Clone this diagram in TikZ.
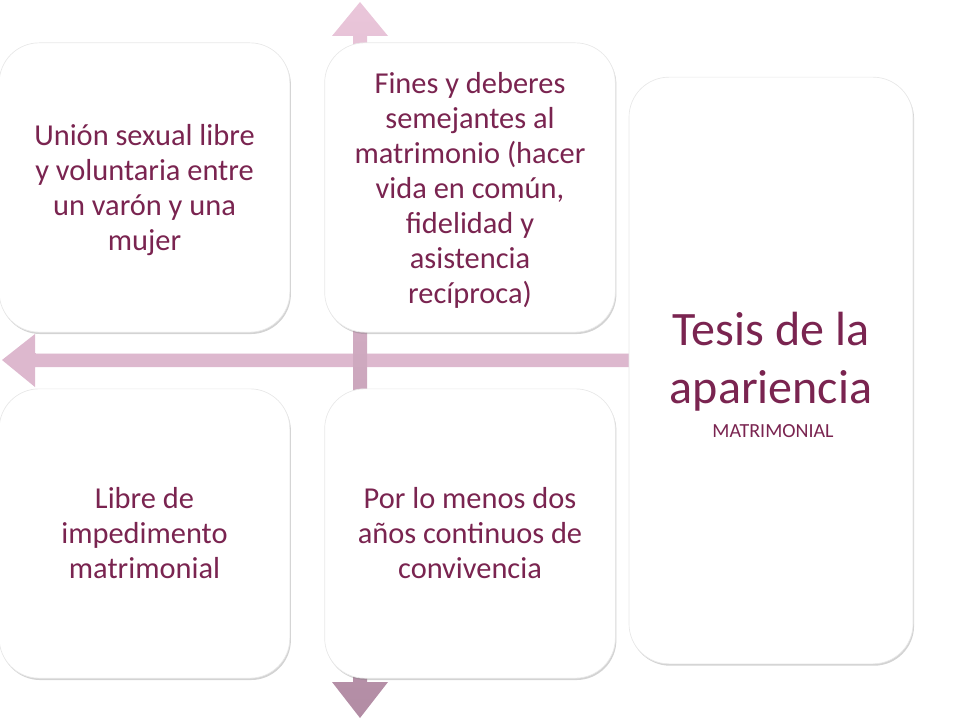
\documentclass[tikz,border=0pt]{standalone}
\usepackage{fontspec}
\setmainfont{Carlito}
\usepackage{tikz}
\usetikzlibrary{shadows}
\usepackage{xcolor}

\definecolor{maroon}{RGB}{122,36,80}
\definecolor{rosebar}{RGB}{221,184,206}
\definecolor{rosetop}{RGB}{234,198,218}
\definecolor{rosebot}{RGB}{178,140,164}

\tikzset{
  card/.style={rectangle, rounded corners=30pt, fill=white, draw=gray!18, line width=0.5pt,
    drop shadow={shadow xshift=0.8pt, shadow yshift=-1.4pt, opacity=0.35, fill=gray},
    text=maroon, align=center, inner sep=0pt},
  cardtext/.style={font=\fontsize{22.8}{26.25}\selectfont},
  smallcard/.style={card, minimum width=218pt, minimum height=217pt}
}

\begin{document}
\begin{tikzpicture}[x=0.75pt,y=-0.75pt]
\useasboundingbox (0,0) rectangle (960,720);

% horizontal arrow
\fill[rosebar] (629,353) -- (35,353) -- (35,334) -- (2,360) -- (35,387) -- (35,367) -- (629,367) -- cycle;
\draw[white!60!rosebar, line width=0.8pt] (629,353.5) -- (36,353.5);

% vertical arrow
\shade[top color=rosetop, bottom color=rosebot] (353,682) -- (353,36) -- (332,36) -- (360,2) -- (388,36) -- (367,36) -- (367,682) -- (388,682) -- (360,718) -- (332,682) -- cycle;

% boxes
\node (union) [smallcard] at (144.5,187.5) {};
\node (fines) [smallcard] at (470,187.5) {};
\node (libre) [smallcard] at (144.5,533.5) {};
\node (anios) [smallcard] at (470,533.5) {};
\node (tesis) [card, minimum width=213pt, minimum height=440pt] at (771,370.5) {};

% texts
\node [cardtext, text=maroon, align=center] at (union) [yshift=-2pt] {Unión sexual libre\\ y voluntaria entre\\ un varón y una\\ mujer};
\node [cardtext, text=maroon, align=center] at (fines) [yshift=-2.5pt] {Fines y deberes\\ semejantes al\\ matrimonio (hacer\\ vida en común,\\ fidelidad y\\ asistencia\\ recíproca)};
\node [cardtext, text=maroon, align=center] at (libre) [yshift=0.5pt] {Libre de\\ impedimento\\ matrimonial};
\node [cardtext, text=maroon, align=center] at (anios) [yshift=0.5pt] {Por lo menos dos\\ años continuos de\\ convivencia};
\node (titulo) [text=maroon, align=center, font=\fontsize{36}{43.5}\selectfont] at (771,361.5) {Tesis de la\\ apariencia};
\node (matri) [text=maroon, anchor=base, font=\fontsize{15}{18}\selectfont] at (773,437) {MATRIMONIAL};
\end{tikzpicture}
\end{document}
